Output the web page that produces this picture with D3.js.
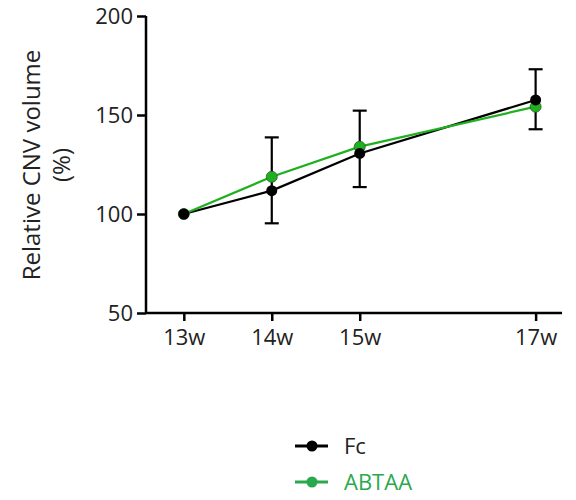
<!DOCTYPE html>
<html>
<head>
<meta charset="utf-8">
<script src="https://cdn.jsdelivr.net/npm/d3@7"></script>
<style>
  body { margin: 0; background: #fff; }
  text { font-family: "Open Sans", sans-serif; }
</style>
</head>
<body>
<svg id="chart" width="576" height="500"></svg>
<script>
// data
var weeks = [13, 14, 15, 17];
var weekLabels = ["13w", "14w", "15w", "17w"];
var fcValues = [100, 111.8, 130.6, 157.6];
var abtaaValues = [100, 118.8, 134, 154.2];
var errLow = [100, 95.3, 113.6, 142.8];
var errHigh = [100, 138.7, 152.2, 173.1];
var yTicks = [50, 100, 150, 200];
var seriesNames = ["Fc", "ABTAA"];

var green = "#1fb01f";
var legendGreen = "#2aa84e";

var svg = d3.select("#chart");

var x = d3.scaleLinear().domain([12.57, 17.3]).range([146, 562]);
var y = d3.scaleLinear().domain([50, 200]).range([313, 16]);

// y axis
var yAxis = svg.append("g")
    .attr("transform", "translate(146,0)")
    .call(d3.axisLeft(y).tickValues(yTicks).tickSize(9).tickPadding(4).tickFormat(d3.format("d")));
yAxis.select(".domain").attr("stroke", "#000").attr("stroke-width", 2.5)
    .attr("d", "M0," + y(200) + "V" + y(50));
yAxis.selectAll(".tick line").attr("stroke", "#000").attr("stroke-width", 2.5);
yAxis.selectAll(".tick text").attr("font-size", 22).attr("fill", "#222")
    .attr("font-family", "Open Sans, sans-serif");

// x axis
var xAxis = svg.append("g")
    .attr("transform", "translate(0,313)")
    .call(d3.axisBottom(x).tickValues(weeks).tickSize(8).tickPadding(8)
        .tickFormat(function(d, i) { return weekLabels[i]; }));
xAxis.select(".domain").attr("stroke", "#000").attr("stroke-width", 2.5)
    .attr("d", "M146,0H562");
xAxis.selectAll(".tick line").attr("stroke", "#000").attr("stroke-width", 2.5);
xAxis.selectAll(".tick text").attr("font-size", 22).attr("fill", "#222")
    .attr("font-family", "Open Sans, sans-serif");

// y title
var yTitle = svg.append("text")
    .attr("transform", "translate(40,165) rotate(-90)")
    .attr("text-anchor", "middle")
    .attr("font-size", 24)
    .attr("fill", "#222");
yTitle.append("tspan").attr("x", 0).attr("dy", 0).text("Relative CNV volume");
yTitle.append("tspan").attr("x", 0).attr("dy", 30).text("(%)");

// error bars
var bars = svg.append("g").selectAll("g")
    .data(weeks.map(function(w, i) { return {w: w, lo: errLow[i], hi: errHigh[i]}; })
        .filter(function(d) { return d.hi > d.lo; }))
    .enter().append("g")
    .attr("stroke", "#000").attr("stroke-width", 2.2);
bars.append("line")
    .attr("x1", function(d) { return x(d.w); }).attr("x2", function(d) { return x(d.w); })
    .attr("y1", function(d) { return y(d.lo); }).attr("y2", function(d) { return y(d.hi); });
bars.append("line")
    .attr("x1", function(d) { return x(d.w) - 7; }).attr("x2", function(d) { return x(d.w) + 7; })
    .attr("y1", function(d) { return y(d.hi); }).attr("y2", function(d) { return y(d.hi); });
bars.append("line")
    .attr("x1", function(d) { return x(d.w) - 7; }).attr("x2", function(d) { return x(d.w) + 7; })
    .attr("y1", function(d) { return y(d.lo); }).attr("y2", function(d) { return y(d.lo); });

var line = d3.line()
    .x(function(d, i) { return x(weeks[i]); })
    .y(function(d) { return y(d); });

// lines
svg.append("path").datum(fcValues)
    .attr("fill", "none").attr("stroke", "#000").attr("stroke-width", 2.2)
    .attr("d", line);
svg.append("path").datum(abtaaValues)
    .attr("fill", "none").attr("stroke", green).attr("stroke-width", 2.2)
    .attr("d", line);

// markers (green first, black on top)
svg.append("g").selectAll("circle").data(abtaaValues).enter().append("circle")
    .attr("cx", function(d, i) { return x(weeks[i]); })
    .attr("cy", function(d) { return y(d); })
    .attr("r", 5.5).attr("fill", green)
    .attr("stroke", "#2a5a2a").attr("stroke-width", 0.8);
svg.append("g").selectAll("circle").data(fcValues).enter().append("circle")
    .attr("cx", function(d, i) { return x(weeks[i]); })
    .attr("cy", function(d) { return y(d); })
    .attr("r", 5.5).attr("fill", "#000");

// legend
var legColors = ["#000", legendGreen];
var legTextColors = ["#222", legendGreen];
var leg = svg.selectAll("g.legende").data(seriesNames).enter().append("g")
    .attr("class", "legende")
    .attr("transform", function(d, i) { return "translate(295," + (446 + 36 * i) + ")"; });
leg.append("line").attr("x1", 0).attr("x2", 33).attr("y1", 0).attr("y2", 0)
    .attr("stroke", function(d, i) { return legColors[i]; }).attr("stroke-width", 3);
leg.append("circle").attr("cx", 17).attr("cy", 0).attr("r", 5.5)
    .attr("fill", function(d, i) { return legColors[i]; });
leg.append("text").attr("x", 49).attr("y", 8)
    .attr("font-size", 22)
    .attr("fill", function(d, i) { return legTextColors[i]; })
    .text(function(d) { return d; });
</script>
</body>
</html>
